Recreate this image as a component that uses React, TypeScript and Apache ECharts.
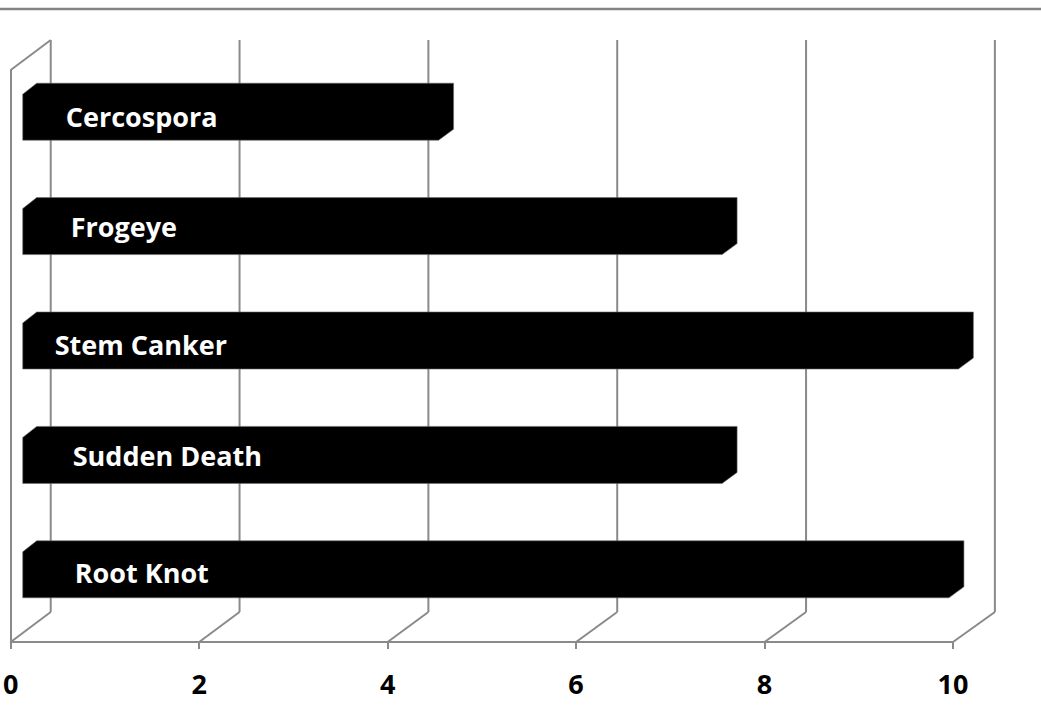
import React, { useEffect, useRef } from "react";
import * as echarts from "echarts";

const categories = ["Cercospora", "Frogeye", "Stem Canker", "Sudden Death", "Root Knot"];
const values = [4.4, 7.4, 9.9, 7.4, 9.8];
const tickValues = [0, 2, 4, 6, 8, 10];

// label placement (style only): x offset from bar start, y offset from bar centre
const labelDx = [43, 48, 32, 50, 52];
const labelDy = [-1, -5, -2, -5, -2];

const GRID_COLOR = "#8a8a8a";
const DEPTH_X = 40;
const DEPTH_Y = 30;
const BAR_FRONT_DX = 12;
const BAR_FRONT_DY = 10;
const BAR_DEPTH_X = 15;
const BAR_DEPTH_Y = 11;
const BAR_HALF = 23;
const BAR_PERSPECTIVE = 1.003;

export default function App() {
  const ref = useRef<HTMLDivElement>(null);
  useEffect(() => {
    document.body.style.margin = "0";
    if (!ref.current) return;
    const chart = echarts.init(ref.current, undefined, { renderer: "svg" });
    const option: any = {
      animation: false,
      backgroundColor: "#ffffff",
      grid: { left: 10, right: 88, top: 70, bottom: 69, containLabel: false },
      xAxis: {
        type: "value",
        min: 0,
        max: 10,
        interval: 2,
        splitLine: { show: false },
        axisLine: { show: true, lineStyle: { color: GRID_COLOR, width: 2 } },
        axisTick: { show: true, length: 7, lineStyle: { color: GRID_COLOR, width: 2 } },
        axisLabel: {
          show: true,
          margin: 41,
          verticalAlign: "middle",
          color: "#000",
          fontFamily: "Open Sans",
          fontWeight: "bold",
          fontSize: 27,
          formatter: (v: number) => String(v),
        },
      },
      yAxis: {
        type: "category",
        inverse: true,
        data: categories,
        axisLine: { show: true, lineStyle: { color: GRID_COLOR, width: 2 } },
        axisTick: { show: false },
        axisLabel: { show: false },
        splitLine: { show: false },
      },
      graphic: [
        {
          type: "line",
          shape: { x1: 0, y1: 9, x2: 1041, y2: 9 },
          style: { stroke: "#848484", lineWidth: 2.5 },
        },
      ],
      series: [
        {
          type: "custom",
          z: 1,
          silent: true,
          clip: false,
          data: tickValues.map((v) => [v, 0]),
          encode: { x: 0, y: 1 },
          renderItem: (params: any, api: any) => {
            const v = api.value(0);
            const cs = params.coordSys;
            const xf = api.coord([v, 0])[0];
            const bottom = cs.y + cs.height;
            const top = cs.y;
            const xb = xf + DEPTH_X + (xf - cs.x) * 0.002;
            const style = { stroke: GRID_COLOR, lineWidth: 2, fill: "none" };
            const children: any[] = [
              { type: "line", shape: { x1: xb, y1: top - DEPTH_Y, x2: xb, y2: bottom - DEPTH_Y }, style },
              { type: "line", shape: { x1: xf, y1: bottom, x2: xb, y2: bottom - DEPTH_Y }, style },
            ];
            if (params.dataIndex === 0) {
              children.push({ type: "line", shape: { x1: xf, y1: top, x2: xb, y2: top - DEPTH_Y }, style });
            }
            return { type: "group", children };
          },
        },
        {
          type: "custom",
          z: 3,
          silent: true,
          clip: false,
          data: values.map((v, i) => [v, i]),
          encode: { x: 0, y: 1 },
          renderItem: (params: any, api: any) => {
            const v = api.value(0);
            const i = api.value(1);
            const p0 = api.coord([0, i]);
            const p1 = api.coord([v, i]);
            const c = p0[1] - BAR_FRONT_DY;
            const xL = p0[0] + BAR_FRONT_DX;
            const xR = xL + (p1[0] - p0[0]) * BAR_PERSPECTIVE;
            const yT = c - BAR_HALF;
            const yB = c + BAR_HALF;
            const pts = [
              [xL, yT],
              [xL + BAR_DEPTH_X - 1, yT - BAR_DEPTH_Y],
              [xR + BAR_DEPTH_X, yT - BAR_DEPTH_Y],
              [xR + BAR_DEPTH_X, yB - BAR_DEPTH_Y],
              [xR, yB],
              [xL, yB],
            ];
            return {
              type: "group",
              children: [
                {
                  type: "polygon",
                  shape: { points: pts },
                  style: { fill: "#000000", stroke: "#6a6a6a", lineWidth: 0.6 },
                },
                {
                  type: "text",
                  x: xL + labelDx[params.dataIndex],
                  y: c + labelDy[params.dataIndex],
                  style: {
                    text: categories[params.dataIndex],
                    fill: "#ffffff",
                    fontFamily: "Open Sans",
                    fontWeight: "bold",
                    fontSize: 27,
                    align: "left",
                    verticalAlign: "middle",
                  },
                },
              ],
            };
          },
        },
      ],
    };
    chart.setOption(option);
    return () => chart.dispose();
  }, []);
  return <div ref={ref} style={{ width: 1041, height: 711 }} />;
}
